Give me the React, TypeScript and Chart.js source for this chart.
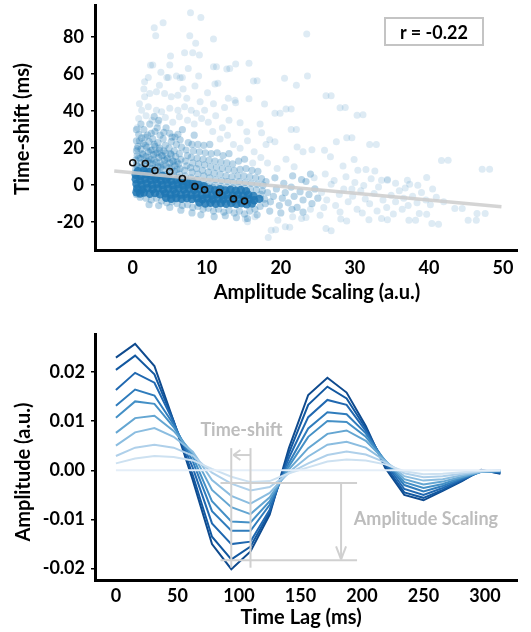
import React, { useEffect, useRef } from "react";
import { Chart, registerables } from "chart.js";

Chart.register(...registerables);

const FONT_FAMILY = "Lato, 'Open Sans', sans-serif";

// ---------------- Top panel: scatter ----------------
const scatterXTicks = [0, 10, 20, 30, 40, 50];
const scatterYTicks = [-20, 0, 20, 40, 60, 80];
const rLabel = "r = -0.22";

// binned means (open black circles)
const binAmp = [0.0, 1.7, 3.0, 5.0, 6.7, 8.4, 9.7, 11.7, 13.6, 15.1];
const binShift = [12.1, 11.7, 7.9, 7.4, 3.6, -0.7, -2.5, -4.0, -7.4, -8.6];

// regression line end points
const fitAmp = [-2.5, 49.8];
const fitShift = [7.6, -11.7];

// dense core band
const corePoints = [
  [0.4, 5.6], [1.1, 5.0], [1.8, 5.9], [2.5, 5.1], [3.2, 4.7], [0.7, 7.5], [1.5, 7.8], [2.3, 7.2],
  [0.4, 3.2], [1.0, 2.6], [1.7, 3.4], [2.4, 2.8], [3.1, 3.3], [3.8, 2.5], [4.5, 3.1], [5.2, 2.4], [5.9, 2.9], [6.6, 2.1], [4.0, 5.0], [4.8, 4.4],
  [0.5, 0.6], [1.2, 0.2], [1.9, 0.9], [2.6, 0.3], [3.3, 0.8], [4.0, 0.1], [4.7, 0.7], [5.4, 0.0], [6.1, 0.6], [6.8, -0.2], [7.5, 0.4], [8.2, -0.3], [8.9, 0.2], [9.6, -0.5], [7.3, 2.0], [8.1, 1.6],
  [0.6, -1.8], [1.3, -2.3], [2.0, -1.6], [2.7, -2.2], [3.4, -1.7], [4.1, -2.4], [4.8, -1.9], [5.5, -2.5], [6.2, -1.8], [6.9, -2.3], [7.6, -2.0], [8.3, -2.6], [9.0, -1.9], [9.7, -2.4], [10.4, -2.1], [11.1, -2.7], [11.8, -2.2], [12.5, -2.8], [13.2, -2.4], [13.9, -3.0], [14.6, -2.6], [15.3, -3.2],
  [0.5, -3.8], [1.0, -4.5], [1.5, -4.0], [2.3, -4.6], [3.0, -4.3], [3.7, -4.9], [4.4, -4.4], [5.1, -5.0], [5.8, -4.5], [6.5, -5.1], [7.2, -4.6], [7.9, -5.2], [8.6, -4.7], [9.3, -5.3], [10.0, -4.8], [10.7, -5.4], [11.4, -4.9], [12.1, -5.5], [12.8, -5.0], [13.5, -5.6], [14.2, -5.1], [14.9, -5.7], [15.6, -5.2], [16.3, -5.8],
  [4.5, -6.8], [5.2, -7.3], [5.9, -6.9], [6.6, -7.4], [7.3, -7.0], [8.0, -7.5], [8.7, -7.1], [9.4, -7.6], [10.1, -7.2], [10.8, -7.7], [11.5, -7.3], [12.2, -7.8], [12.9, -7.4], [13.6, -7.9], [14.3, -7.5], [15.0, -8.0], [15.7, -7.6], [16.4, -8.1], [17.1, -7.4],
  [9.0, -9.4], [9.8, -9.9], [10.5, -9.5], [11.2, -10.0], [11.9, -9.6], [12.6, -10.1], [13.3, -9.7], [14.0, -10.2], [14.7, -9.8], [15.4, -10.3], [16.1, -9.9],
];

// medium-density cloud
const cloudPoints = [
  [0.4, 8.5], [0.5, 11], [0.4, 13.5], [0.6, 16], [0.5, 18.5], [0.7, 21], [0.5, 24], [0.8, 27.5],
  [1.1, 9.5], [1.2, 12], [1.0, 14.5], [1.3, 17], [1.1, 19.5], [1.4, 22.5], [1.2, 25.5], [1.5, 30],
  [1.8, 8], [1.9, 10.5], [2.0, 13], [1.8, 15.5], [2.1, 18], [1.9, 20.5], [2.2, 23.5], [2.0, 27], [2.3, 33],
  [2.6, 9], [2.7, 11.5], [2.5, 14], [2.8, 16.5], [2.6, 19], [2.9, 22], [2.7, 25], [3.0, 29],
  [3.3, 7.5], [3.4, 10], [3.2, 12.5], [3.5, 15], [3.3, 17.5], [3.6, 20], [3.4, 23], [3.7, 27], [3.5, 35],
  [4.0, 8.5], [4.1, 11], [4.3, 13.5], [4.0, 16], [4.2, 18.5], [4.4, 21.5], [4.1, 25], [4.5, 31],
  [4.8, 6.5], [4.9, 9.5], [5.0, 12], [4.7, 14.5], [5.1, 17], [4.9, 20], [5.2, 23.5], [5.0, 28],
  [5.6, 7.5], [5.7, 10.5], [5.5, 13], [5.8, 15.5], [5.6, 18.5], [5.9, 22], [5.7, 26],
  [6.3, 6], [6.4, 9], [6.2, 11.5], [6.5, 14], [6.3, 17], [6.6, 20.5], [6.4, 24.5], [6.7, 30],
  [7.1, 5], [7.0, 8], [7.3, 10.5], [7.1, 13], [7.4, 16], [7.2, 19], [7.5, 23],
  [7.9, 4], [8.0, 7], [7.8, 9.5], [8.1, 12], [7.9, 15], [8.2, 18.5], [8.0, 22], [8.3, 27],
  [8.7, 3], [8.8, 6], [8.6, 9], [8.9, 11.5], [8.7, 14.5], [9.0, 18], [8.8, 22],
  [9.5, 2], [9.6, 5], [9.4, 8], [9.7, 11], [9.5, 14], [9.8, 17.5], [9.6, 21.5],
  [10.3, 1], [10.4, 4], [10.2, 7], [10.5, 10], [10.3, 13.5], [10.6, 17], [10.4, 22],
  [11.1, 0], [11.2, 3], [11.0, 6.5], [11.3, 9.5], [11.1, 13], [11.4, 17.5],
  [11.9, -0.5], [12.0, 2.5], [11.8, 6], [12.1, 9], [11.9, 12.5], [12.2, 16],
  [12.7, -1], [12.8, 2], [12.6, 5], [12.9, 8.5], [12.7, 12], [13.0, 17],
  [13.5, -1.5], [13.6, 1.5], [13.4, 4.5], [13.7, 8], [13.5, 11.5],
  [14.3, -1], [14.4, 2], [14.2, 5], [14.5, 8.5], [14.3, 13],
  [15.1, -1.5], [15.2, 1.5], [15.0, 5], [15.3, 9], [15.1, 14],
  [15.9, -2], [16.0, 1], [15.8, 4.5], [16.1, 8],
  [16.7, -2.5], [16.8, 0.5], [16.6, 4], [16.9, 7.5],
  [17.5, -3], [17.6, 0], [17.4, 3.5],
  [0.7, 10], [0.8, 14.8], [0.6, 19.8], [1.5, 8.8], [1.6, 13.2], [1.4, 16.5], [1.7, 21.5], [2.3, 11.8], [2.2, 15.0], [2.4, 18.8],
  [3.0, 9.5], [2.9, 13.5], [3.1, 17], [3.0, 21], [3.8, 9.8], [3.7, 12.2], [3.9, 15.8], [3.6, 19], [4.5, 10.5], [4.6, 14],
  [4.4, 17.5], [5.3, 9.5], [5.4, 13], [5.2, 16.5], [6.0, 8.5], [6.0, 12.5], [0.3, 6.5], [1.3, 6.5], [2.2, 6.8], [3.0, 6.2],
  [3.9, 6.0], [4.6, 5.8], [5.5, 5.0], [6.2, 4.0], [7.0, 3.0], [7.8, 2.2], [8.5, 1.0], [9.3, 0], [10.0, -0.8], [10.8, -1.2],
  [0.5, -5], [1.0, -6.5], [1.8, -7], [2.5, -8], [3.2, -7], [3.9, -8.5], [4.6, -9.5], [5.3, -9], [6.0, -10], [6.7, -11],
  [7.4, -10.5], [8.1, -12], [8.8, -11.5], [9.5, -13], [10.2, -12.5], [10.9, -14], [11.6, -13], [12.3, -14.5], [13.0, -13.5], [13.7, -15],
  [14.4, -14], [15.1, -15.5], [15.8, -14], [16.5, -13], [17.2, -11.5], [17.9, -10], [2.2, -10.5], [3.5, -11], [5.0, -12], [6.5, -13.5],
  [8.0, -15], [9.2, -16], [11.0, -17], [12.5, -16.5], [14.0, -17.5], [15.5, -18], [16.8, -16],
  [17.3, -5], [17.8, -7.5], [18.2, -4], [18.6, -9], [19.0, -6], [19.4, -2], [19.8, -11], [20.2, -7], [20.6, -4], [21.0, -9.5],
  [21.4, -1], [21.8, -6], [22.2, -12], [22.6, -3.5], [23.0, -8], [23.4, 2], [23.8, -5], [24.2, -10], [24.6, -2], [25.0, -7],
  [18.0, 2], [19.2, 4], [20.4, 1], [21.6, 5], [22.8, 3], [24.0, 6], [18.5, -14], [20.0, -15], [21.5, -13], [23.0, -14.5],
  [0.9, 24], [1.7, 26], [2.5, 28], [3.3, 31], [4.2, 28.5], [5.3, 26], [6.1, 27.5], [0.5, 30], [1.1, 33], [2.9, 37],
];

// sparse outliers
const outlierPoints = [
  [7.8, 93.1], [9.2, 90.6], [2.9, 85.0], [4.1, 87.7], [3.1, 80.7], [7.7, 80.7], [10.9, 78.9], [8.5, 76.6], [23.5, 81.6],
  [7.0, 71.5], [8.1, 71.5], [9.0, 70.3], [5.1, 69.7], [2.4, 64.7], [2.7, 64.9], [5.0, 64.9], [13.9, 65.4], [10.9, 64.0], [12.7, 62.7], [11.3, 64.0], [13.1, 63.0],
  [4.6, 58.2], [6.4, 58.0], [2.1, 58.2], [4.8, 58.2], [5.9, 58.9], [6.7, 58.2], [1.6, 55.9], [11.1, 54.6], [20.5, 57.7], [23.6, 58.9], [16.3, 56.2], [22.1, 53.9], [8.4, 53.5], [11.5, 55.0], [15.7, 65.8], [16.8, 56.4],
  [26.1, 48.3], [28.0, 41.8], [30.3, 37.8], [20.7, 41.2], [19.2, 38.8], [21.4, 30.1], [28.9, 25.6], [32.0, 22.0], [41.7, 13.3], [47.2, 8.6], [30.4, 8.1], [37.1, 2.7], [37.4, 0.5], [33.6, 2.7], [34.4, 3.1], [39.7, 4.1],
  [43.5, -12.6], [40.4, -20.7], [45.3, -18.9], [46.5, -15.3], [37.3, -19.0], [38.7, -15.3], [44.5, -12.6], [39.7, -15.7], [38.2, -18.9], [41.3, -21.1], [46.4, -18.9], [47.6, -15.3], [42.6, 13.5], [48.2, 8.6],
  [18.3, -28.3], [18.7, -24.3], [20.6, -22.5], [21.2, -22.7], [26.1, -23.4], [26.8, -24.6], [28.9, -19.3], [31.9, -18.6], [22.8, -18.0], [16.5, -17.0], [15.2, -18.2], [15.5, -19.8], [19.3, -24.0], [23.4, -17.5], [25.3, -16.2], [28.1, -18.2], [31.0, -15.0], [33.6, -18.0], [34.4, -18.6],
  [15.7, 46.7], [17.8, 43.8], [21.4, 41.2], [26.8, 48.3], [28.7, 42.0], [31.1, 38.0], [19.9, 38.8], [17.2, 33.0], [14.5, 33.7], [15.4, 28.8], [22.1, 30.1], [17.4, 28.3], [29.6, 25.6], [32.9, 22.0],
  [18.5, 24.5], [19.2, 23.5], [18.0, 22.0], [23.0, 18.0], [24.2, 19.2], [22.2, 20.6], [25.9, 18.9], [27.5, 23.4], [26.7, 15.3], [29.9, 13.9], [28.4, 10.4], [31.5, 8.5], [32.7, 7.6], [34.4, 2.7], [31.2, -0.2], [29.6, -2.0],
  [12.9, 46.9], [13.8, 45.9], [13.9, 44.5], [1.6, 47.7], [2.3, 49.5], [3.2, 50.4], [4.3, 49.5], [5.2, 47.7], [6.1, 48.6], [7.3, 46.9], [10.1, 49.9],
  [25.5, -4], [26.2, -8], [26.8, 0.5], [27.4, -11], [27.9, -5], [28.5, -2], [29.1, -9], [29.7, -6], [30.3, -13], [30.8, -3],
  [31.4, -7.5], [32.0, -10], [32.6, -4.5], [33.2, -1], [33.8, -8], [34.3, -12], [34.9, -5.5], [35.5, -9], [36.0, -3], [36.6, -7],
  [37.2, -11], [37.8, -6], [38.4, -9.5], [39.0, -4], [39.6, -8], [40.2, -10.5], [41.0, -6.5], [42.0, -9], [24.5, 4], [26.0, 6],
  [27.2, 2.5], [28.8, 4.5], [30.0, 1.5], [32.2, 3.5], [35.5, 1], [36.8, -1.5], [38.5, 0], [40.5, -2], [33.0, -14], [35.2, -15.5],
  [36.4, -13], [28.0, -14.5], [25.8, -12], [24.0, -13], [21.6, -17], [19.6, -19],
  [1.2, 40.5], [2.1, 42.3], [3.2, 40.5], [3.9, 39.6], [5.0, 41.5], [6.1, 40.5], [7.0, 42.3], [7.9, 40.5], [8.6, 38.8], [9.7, 40.5],
  [0.8, 36], [1.8, 37.5], [2.6, 35], [3.4, 33.5], [4.4, 36.5], [5.4, 34], [6.3, 37], [7.4, 35], [8.3, 33], [9.3, 36],
  [10.2, 34], [11.2, 37.5], [12.1, 31], [13.0, 35], [10.8, 29], [11.8, 25], [12.8, 27], [13.6, 22], [14.5, 20], [15.5, 24],
  [16.4, 18], [17.3, 15], [18.2, 12], [19.5, 9], [20.7, 14], [21.8, 10], [16.2, 12], [12.4, 42], [10.9, 44], [9.1, 45],
  [0.6, 31], [0.9, 44], [1.5, 52], [3.6, 54], [6.8, 52], [8.9, 59], [7.5, 63], [3.8, 61],
];

// ---------------- Bottom panel: kernels ----------------
const lagTicks = [0, 50, 100, 150, 200, 250, 300];
const ampTicks = [-0.02, -0.01, 0, 0.01, 0.02];
const lagMs = [0, 15.6, 31.3, 46.9, 62.5, 78.1, 93.8, 109.4, 125, 140.6, 156.3, 171.9, 187.5, 203.1, 218.8, 234.4, 250, 265.6, 281.3, 296.9, 312.5];

const kernel1 = [0.0229, 0.0257, 0.0212, 0.0100, -0.0020, -0.0150, -0.0201, -0.0165, -0.0090, 0.0045, 0.0153, 0.0188, 0.0158, 0.0090, 0.0005, -0.0050, -0.0061, -0.0042, -0.0022, 0.0001, -0.0007];
const kernel2 = [0.0204, 0.0233, 0.0195, 0.0100, -0.0010, -0.0135, -0.0181, -0.0155, -0.0085, 0.0035, 0.0133, 0.0170, 0.0146, 0.0085, 0.0010, -0.0045, -0.0056, -0.0040, -0.0021, 0.0000, -0.0006];
const kernel3 = [0.0163, 0.0198, 0.0178, 0.0098, 0.0005, -0.0108, -0.0150, -0.0145, -0.0080, 0.0025, 0.0108, 0.0143, 0.0133, 0.0080, 0.0015, -0.0038, -0.0050, -0.0036, -0.0019, -0.0002, -0.0004];
const kernel4 = [0.0131, 0.0164, 0.0152, 0.0093, 0.0018, -0.0083, -0.0123, -0.0123, -0.0070, 0.0015, 0.0085, 0.0118, 0.0114, 0.0075, 0.0018, -0.0030, -0.0043, -0.0032, -0.0017, -0.0003, -0.0003];
const kernel5 = [0.0107, 0.0140, 0.0135, 0.0088, 0.0028, -0.0063, -0.0104, -0.0106, -0.0063, 0.0008, 0.0068, 0.0100, 0.0098, 0.0068, 0.0020, -0.0024, -0.0036, -0.0028, -0.0015, -0.0003, -0.0002];
const kernel6 = [0.0076, 0.0106, 0.0111, 0.0080, 0.0035, -0.0040, -0.0075, -0.0089, -0.0055, 0.0002, 0.0045, 0.0074, 0.0081, 0.0060, 0.0020, -0.0018, -0.0029, -0.0023, -0.0013, -0.0003, -0.0001];
const kernel7 = [0.0050, 0.0077, 0.0086, 0.0068, 0.0038, -0.0020, -0.0052, -0.0068, -0.0046, -0.0004, 0.0028, 0.0052, 0.0058, 0.0046, 0.0019, -0.0012, -0.0021, -0.0018, -0.0010, -0.0003, -0.0001];
const kernel8 = [0.0029, 0.0046, 0.0052, 0.0046, 0.0030, -0.0005, -0.0027, -0.0041, -0.0034, -0.0006, 0.0014, 0.0031, 0.0038, 0.0032, 0.0016, -0.0006, -0.0014, -0.0012, -0.0007, -0.0002, 0.0000];
const kernel9 = [0.0014, 0.0024, 0.0029, 0.0027, 0.0020, 0.0003, -0.0013, -0.0024, -0.0022, -0.0006, 0.0006, 0.0018, 0.0022, 0.0020, 0.0012, -0.0002, -0.0008, -0.0007, -0.0004, -0.0001, 0.0000];
const kernel10 = [0, 0, 0, 0, 0, 0, 0, 0, 0, 0, 0, 0, 0, 0, 0, 0, 0, 0, 0, 0, 0];
const kernels = [kernel1, kernel2, kernel3, kernel4, kernel5, kernel6, kernel7, kernel8, kernel9, kernel10];
const kernelColors = ["#0e4a8e", "#1258a0", "#2068b0", "#2f7cbc", "#4490c6", "#64a6d2", "#8bbde0", "#afd0ea", "#cde1f1", "#e4eef8"];

// annotation anchors (data units)
const shiftLagA = 93.75;
const shiftLagB = 109.4;
const shiftTopAmp = 0.0045;
const shiftBottomAmp = -0.0198;
const shiftArrowAmp = 0.0031;
const shiftArrowTip = 95.5;
const scaleTopAmp = -0.0026;
const scaleBottomAmp = -0.0183;
const scaleLagStart = 85;
const scaleLagEnd = 196;
const scaleArrowLag = 183;
const shiftTextPos = [102, 0.0081];
const scaleTextPos = [252, -0.0099];

const tickFont = { family: FONT_FAMILY, size: 18, weight: "bold" as const };

function titlesPlugin(id: string, xText: string, xPos: number[], yText: string, yPos: number[]) {
  return {
    id,
    afterDraw(chart: any) {
      const ctx = chart.ctx;
      ctx.save();
      ctx.fillStyle = "#000";
      ctx.font = `bold 20px ${FONT_FAMILY}`;
      ctx.textAlign = "center";
      ctx.textBaseline = "middle";
      ctx.fillText(xText, xPos[0], xPos[1]);
      ctx.translate(yPos[0], yPos[1]);
      ctx.rotate(-Math.PI / 2);
      ctx.fillText(yText, 0, 0);
      ctx.restore();
    },
  };
}

const annotationPlugin = {
  id: "kernelAnnotations",
  afterDatasetsDraw(chart: any) {
    const { ctx } = chart;
    const xs = chart.scales.x;
    const ys = chart.scales.y;
    const px = (v: number) => xs.getPixelForValue(v);
    const py = (v: number) => ys.getPixelForValue(v);
    const seg = (x1: number, y1: number, x2: number, y2: number) => {
      ctx.beginPath();
      ctx.moveTo(x1, y1);
      ctx.lineTo(x2, y2);
      ctx.stroke();
    };
    ctx.save();
    ctx.strokeStyle = "#d0d0d0";
    ctx.lineWidth = 2;
    seg(px(shiftLagA), py(shiftTopAmp), px(shiftLagA), py(shiftBottomAmp));
    seg(px(shiftLagB), py(shiftTopAmp), px(shiftLagB), py(shiftBottomAmp));
    const ay = py(shiftArrowAmp);
    const tip = px(shiftArrowTip);
    seg(px(shiftLagB), ay, tip, ay);
    seg(tip, ay, tip + 7, ay - 5);
    seg(tip, ay, tip + 7, ay + 5);
    seg(px(scaleLagStart), py(scaleTopAmp), px(scaleLagEnd), py(scaleTopAmp));
    seg(px(scaleLagStart), py(scaleBottomAmp), px(scaleLagEnd), py(scaleBottomAmp));
    const ax = px(scaleArrowLag);
    const ab = py(scaleBottomAmp) - 1;
    seg(ax, py(scaleTopAmp), ax, ab);
    seg(ax, ab, ax - 5, ab - 13);
    seg(ax, ab, ax + 5, ab - 13);
    ctx.fillStyle = "#bdbdbd";
    ctx.font = `bold 18px ${FONT_FAMILY}`;
    ctx.textAlign = "center";
    ctx.textBaseline = "middle";
    ctx.fillText("Time-shift", px(shiftTextPos[0]), py(shiftTextPos[1]));
    ctx.fillText("Amplitude Scaling", px(scaleTextPos[0]), py(scaleTextPos[1]));
    ctx.restore();
  },
};

const toXY = (pts: number[][]) => pts.map(([x, y]) => ({ x, y }));

export default function App() {
  const topRef = useRef<HTMLCanvasElement | null>(null);
  const botRef = useRef<HTMLCanvasElement | null>(null);

  useEffect(() => {
    const blue = (a: number) => `rgba(31,119,180,${a})`;
    const top = new Chart(topRef.current as HTMLCanvasElement, {
      type: "scatter",
      data: {
        datasets: [
          {
            data: binAmp.map((x, i) => ({ x, y: binShift[i] })),
            pointRadius: 3,
            pointBorderWidth: 1.6,
            pointBorderColor: "#111",
            pointBackgroundColor: "rgba(0,0,0,0)",
            order: 0,
          } as any,
          {
            data: fitAmp.map((x, i) => ({ x, y: fitShift[i] })),
            showLine: true,
            borderColor: "rgba(205,205,205,0.85)",
            borderWidth: 3.5,
            pointRadius: 0,
            order: 1,
          },
          { data: toXY(corePoints), pointRadius: 4.2, pointBorderWidth: 0, backgroundColor: blue(0.85), order: 2 },
          { data: toXY(cloudPoints), pointRadius: 3.6, pointBorderWidth: 0, backgroundColor: blue(0.3), order: 3 },
          { data: toXY(outlierPoints), pointRadius: 3.5, pointBorderWidth: 0, backgroundColor: blue(0.15), order: 4 },
        ],
      },
      options: {
        animation: false,
        responsive: false,
        devicePixelRatio: 1,
        events: [],
        layout: { padding: { left: 0, right: 14, top: 5, bottom: 0 }, autoPadding: false },
        plugins: { legend: { display: false }, tooltip: { enabled: false } },
        scales: {
          x: {
            type: "linear",
            min: -5.1,
            max: 51.9,
            afterBuildTicks: (s: any) => { s.ticks = scatterXTicks.map((v) => ({ value: v })); },
            afterFit: (s: any) => { s.height = 66; s.paddingLeft = 0; s.paddingRight = 0; },
            grid: { display: false, drawTicks: false, tickLength: 0 },
            border: { display: true, color: "#000", width: 3 },
            ticks: { font: tickFont, color: "#000", padding: 7, maxRotation: 0 },
          },
          y: {
            type: "linear",
            min: -35,
            max: 97.3,
            afterBuildTicks: (s: any) => { s.ticks = scatterYTicks.map((v) => ({ value: v })); },
            afterFit: (s: any) => { s.width = 95; s.paddingTop = 0; s.paddingBottom = 0; },
            grid: { display: true, drawOnChartArea: false, drawTicks: true, tickLength: 4, color: "#000", lineWidth: 1.5 },
            border: { display: true, color: "#000", width: 3 },
            ticks: { font: tickFont, color: "#000", padding: 7 },
          },
        },
      },
      plugins: [titlesPlugin("topTitles", "Amplitude Scaling (a.u.)", [317, 293], "Time-shift (ms)", [23, 129])],
    });

    const bot = new Chart(botRef.current as HTMLCanvasElement, {
      type: "line",
      data: {
        datasets: kernels.map((k, i) => ({
          data: lagMs.map((x, j) => ({ x, y: k[j] })),
          borderColor: kernelColors[i],
          borderWidth: 2,
          pointRadius: 0,
          tension: 0,
          fill: false,
          order: kernels.length - i,
        })),
      },
      options: {
        animation: false,
        responsive: false,
        devicePixelRatio: 1,
        events: [],
        layout: { padding: { left: 0, right: 14, top: 18, bottom: 0 }, autoPadding: false },
        plugins: { legend: { display: false }, tooltip: { enabled: false } },
        scales: {
          x: {
            type: "linear",
            min: -17,
            max: 326,
            afterBuildTicks: (s: any) => { s.ticks = lagTicks.map((v) => ({ value: v })); },
            afterFit: (s: any) => { s.height = 52; s.paddingLeft = 0; s.paddingRight = 0; },
            grid: { display: false, drawTicks: false, tickLength: 0 },
            border: { display: true, color: "#000", width: 3 },
            ticks: { font: tickFont, color: "#000", padding: 5, maxRotation: 0 },
          },
          y: {
            type: "linear",
            min: -0.0223,
            max: 0.0277,
            afterBuildTicks: (s: any) => { s.ticks = ampTicks.map((v) => ({ value: v })); },
            afterFit: (s: any) => { s.width = 95; s.paddingTop = 0; s.paddingBottom = 0; },
            grid: { display: true, drawOnChartArea: false, drawTicks: true, tickLength: 4, color: "#000", lineWidth: 1.5 },
            border: { display: true, color: "#000", width: 3 },
            ticks: { font: tickFont, color: "#000", padding: 6, callback: (v: any) => Number(v).toFixed(2) },
          },
        },
      },
      plugins: [annotationPlugin, titlesPlugin("botTitles", "Time Lag (ms)", [301, 302], "Amplitude (a.u.)", [24, 156])],
    });

    return () => {
      top.destroy();
      bot.destroy();
    };
  }, []);

  return (
    <div style={{ position: "absolute", left: 0, top: 0, width: 531, height: 632, background: "#fff", overflow: "hidden" }}>
      <canvas ref={topRef} width={531} height={316} style={{ position: "absolute", left: 0, top: 0, width: 531, height: 316 }} />
      <canvas ref={botRef} width={531} height={316} style={{ position: "absolute", left: 0, top: 316, width: 531, height: 316 }} />
      <div
        style={{
          position: "absolute",
          left: 384,
          top: 17,
          width: 100,
          height: 29,
          boxSizing: "border-box",
          border: "2px solid #c4c4c4",
          display: "flex",
          alignItems: "center",
          justifyContent: "center",
          fontFamily: FONT_FAMILY,
          fontWeight: "bold",
          fontSize: 18,
          color: "#000",
        }}
      >
        {rLabel}
      </div>
    </div>
  );
}
